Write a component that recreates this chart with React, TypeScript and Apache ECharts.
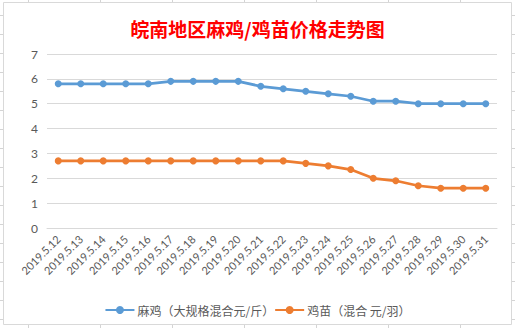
import React, { useEffect, useRef } from "react";
import * as echarts from "echarts";

const titleText = "皖南地区麻鸡/鸡苗价格走势图";
const dates = [
  "2019.5.12", "2019.5.13", "2019.5.14", "2019.5.15", "2019.5.16",
  "2019.5.17", "2019.5.18", "2019.5.19", "2019.5.20", "2019.5.21",
  "2019.5.22", "2019.5.23", "2019.5.24", "2019.5.25", "2019.5.26",
  "2019.5.27", "2019.5.28", "2019.5.29", "2019.5.30", "2019.5.31",
];
const majiName = "麻鸡（大规格混合元/斤）";
const majiPrice = [5.8, 5.8, 5.8, 5.8, 5.8, 5.9, 5.9, 5.9, 5.9, 5.7, 5.6, 5.5, 5.4, 5.3, 5.1, 5.1, 5.0, 5.0, 5.0, 5.0];
const jimiaoName = "鸡苗（混合 元/羽）";
const jimiaoPrice = [2.7, 2.7, 2.7, 2.7, 2.7, 2.7, 2.7, 2.7, 2.7, 2.7, 2.7, 2.6, 2.5, 2.35, 2.0, 1.9, 1.7, 1.6, 1.6, 1.6];

const W = 515;
const H = 328;

export default function App() {
  const ref = useRef<HTMLDivElement>(null);
  useEffect(() => {
    if (!ref.current) return;
    const chart = echarts.init(ref.current, undefined, { renderer: "svg" });

    const bg: any[] = [];
    const sheetCols = [28, 100, 172, 244, 316, 388, 460];
    sheetCols.forEach((x) =>
      bg.push({ type: "line", z: -100, silent: true, shape: { x1: x + 0.5, y1: 0, x2: x + 0.5, y2: H }, style: { stroke: "#d4d4d4", lineWidth: 1 } })
    );
    for (let y = 15; y < H; y += 19) {
      bg.push({ type: "line", z: -100, silent: true, shape: { x1: 0, y1: y + 0.5, x2: W, y2: y + 0.5 }, style: { stroke: "#d4d4d4", lineWidth: 1 } });
    }
    bg.push({
      type: "rect", z: -90, silent: true,
      shape: { x: 3.5, y: 2.5, width: 508, height: 322 },
      style: { fill: "#ffffff", stroke: "#d9d9d9", lineWidth: 1 },
    });

    const cjk = "'Noto Sans CJK SC', 'Microsoft YaHei', sans-serif";
    chart.setOption({
      animation: false,
      backgroundColor: "#ffffff",
      graphic: bg,
      title: {
        text: titleText,
        left: "center",
        top: 14,
        textStyle: { color: "#ff0000", fontSize: 19, fontWeight: "bold", fontFamily: cjk },
      },
      legend: {
        left: "center",
        top: 299,
        itemWidth: 29,
        itemHeight: 10,
        itemGap: 0,
        textStyle: { color: "#595959", fontSize: 12, fontFamily: cjk, padding: [0, 0, 0, -2] },
        data: [majiName, jimiaoName],
      },
      grid: { left: 47, right: 18, top: 54, bottom: 100, containLabel: false },
      xAxis: {
        type: "category",
        data: dates,
        boundaryGap: true,
        axisLine: { lineStyle: { color: "#d9d9d9" } },
        axisTick: { show: false },
        axisLabel: {
          interval: 0,
          rotate: 45,
          fontSize: 11,
          margin: 9,
          color: "#595959",
          fontFamily: "Lato, 'Noto Sans', sans-serif",
        },
      },
      yAxis: {
        type: "value",
        min: 0,
        max: 7,
        interval: 1,
        axisLine: { show: false },
        axisTick: { show: false },
        splitLine: { lineStyle: { color: "#d9d9d9" } },
        axisLabel: { color: "#595959", fontSize: 12, margin: 9, fontFamily: "Lato, 'Noto Sans', sans-serif" },
      },
      series: [
        {
          name: majiName,
          type: "line",
          data: majiPrice,
          symbol: "circle",
          symbolSize: 7,
          lineStyle: { width: 2.75, color: "#5b9bd5" },
          itemStyle: { color: "#5b9bd5" },
        },
        {
          name: jimiaoName,
          type: "line",
          data: jimiaoPrice,
          symbol: "circle",
          symbolSize: 7,
          lineStyle: { width: 2.75, color: "#ed7d31" },
          itemStyle: { color: "#ed7d31" },
        },
      ],
    });
    return () => chart.dispose();
  }, []);
  return (
    <div
      ref={ref}
      style={{ position: "absolute", left: 0, top: 0, width: W, height: H }}
    />
  );
}
